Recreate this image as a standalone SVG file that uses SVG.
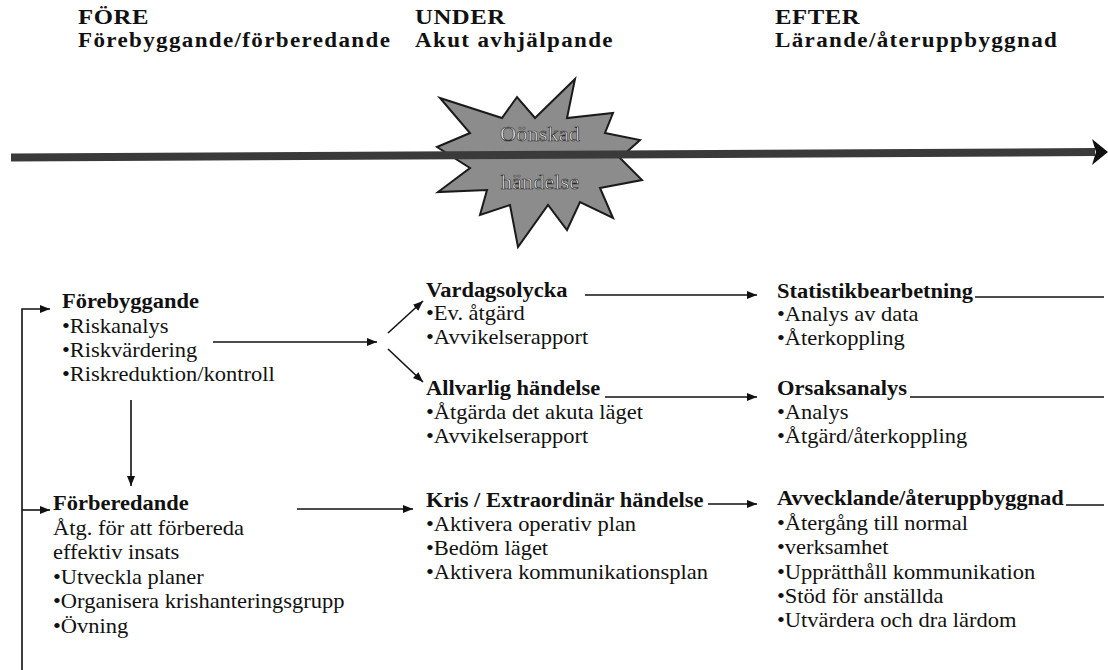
<svg xmlns="http://www.w3.org/2000/svg" width="1108" height="670" viewBox="0 0 1108 670" font-family="'Liberation Serif', 'DejaVu Serif', 'Times New Roman', serif">
<defs>
<style>
text{font-family:'Liberation Serif','DejaVu Serif','Times New Roman',serif;fill:#111}
.b{font-weight:bold;font-size:20px}
.t{font-size:20px}
.hd{font-weight:bold;font-size:22px;letter-spacing:0.5px}
.sub{font-weight:bold;font-size:20.5px;letter-spacing:1.2px}
.ln{stroke:#111;stroke-width:1.6;fill:none}
.arr{marker-end:url(#ah)}
.st{font-size:20px;fill:#eeeeee;stroke:#2a2a2a;stroke-width:0.6}
</style>
<marker id="ah" viewBox="0 0 10 8" refX="10" refY="4" markerWidth="10" markerHeight="8" markerUnits="userSpaceOnUse" orient="auto">
<path d="M0,0 L10,4 L0,8 z" fill="#111"/>
</marker>
</defs>
<rect width="1108" height="670" fill="#fff"/>

<g id="header-fore" transform="translate(78,0) scale(1.125,1)">
<text class="hd" x="0" y="24">FÖRE</text>
<text class="sub" x="0" y="47">Förebyggande/förberedande</text>
</g>
<g id="header-under" transform="translate(415,0) scale(1.125,1)">
<text class="hd" x="0" y="24">UNDER</text>
<text class="sub" x="0" y="47">Akut avhjälpande</text>
</g>
<g id="header-efter" transform="translate(775,0) scale(1.125,1)">
<text class="hd" x="0" y="24">EFTER</text>
<text class="sub" x="0" y="47">Lärande/återuppbyggnad</text>
</g>

<g id="event">
<polygon points="440,98 502,118 517,97 535,118 575,79 567,118 613,113 605,133 640,140 620,158 642,180 600,188 613,218 580,202 567,230 548,205 518,247 510,205 480,215 487,190 438,192 470,168 437,147 470,133" fill="#8c8c8c" stroke="#1a1a1a" stroke-width="2" stroke-linejoin="miter"/>
</g>

<g id="timeline">
<line x1="11" y1="157.5" x2="1095" y2="152" stroke="#3a3a3a" stroke-width="8"/>
<polygon points="1092,139 1108,152 1092,165 1096,152" fill="#111"/>
</g>

<g id="event-label" transform="translate(540,0) scale(1.125,1)">
<text class="st" x="0" y="141" text-anchor="middle">Oönskad</text>
<text class="st" x="0" y="189" text-anchor="middle">händelse</text>
</g>

<g id="forebyggande" transform="translate(62,0) scale(1.125,1)">
<text class="b" x="0" y="308">Förebyggande</text>
<text class="t" x="0" y="333">•Riskanalys</text>
<text class="t" x="0" y="357">•Riskvärdering</text>
<text class="t" x="0" y="381">•Riskreduktion/kontroll</text>
</g>

<g id="forberedande" transform="translate(53,0) scale(1.125,1)">
<text class="b" x="0" y="510">Förberedande</text>
<text class="t" x="0" y="535">Åtg. för att förbereda</text>
<text class="t" x="0" y="559">effektiv insats</text>
<text class="t" x="0" y="584">•Utveckla planer</text>
<text class="t" x="0" y="608">•Organisera krishanteringsgrupp</text>
<text class="t" x="0" y="633">•Övning</text>
</g>

<g id="vardagsolycka" transform="translate(426,0) scale(1.125,1)">
<text class="b" x="0" y="297">Vardagsolycka</text>
<text class="t" x="0" y="320">•Ev. åtgärd</text>
<text class="t" x="0" y="344">•Avvikelserapport</text>
</g>

<g id="allvarlig" transform="translate(426,0) scale(1.125,1)">
<text class="b" x="0" y="395">Allvarlig händelse</text>
<text class="t" x="0" y="419">•Åtgärda det akuta läget</text>
<text class="t" x="0" y="443">•Avvikelserapport</text>
</g>

<g id="kris" transform="translate(426,0) scale(1.125,1)">
<text class="b" x="0" y="507">Kris / Extraordinär händelse</text>
<text class="t" x="0" y="531">•Aktivera operativ plan</text>
<text class="t" x="0" y="555">•Bedöm läget</text>
<text class="t" x="0" y="579">•Aktivera kommunikationsplan</text>
</g>

<g id="statistik" transform="translate(777,0) scale(1.125,1)">
<text class="b" x="0" y="298">Statistikbearbetning</text>
<text class="t" x="0" y="321">•Analys av data</text>
<text class="t" x="0" y="345">•Återkoppling</text>
</g>

<g id="orsaksanalys" transform="translate(777,0) scale(1.125,1)">
<text class="b" x="0" y="395">Orsaksanalys</text>
<text class="t" x="0" y="419">•Analys</text>
<text class="t" x="0" y="443">•Åtgärd/återkoppling</text>
</g>

<g id="avvecklande" transform="translate(777,0) scale(1.125,1)">
<text class="b" x="0" y="505">Avvecklande/återuppbyggnad</text>
<text class="t" x="0" y="530">•Återgång till normal</text>
<text class="t" x="0" y="554">•verksamhet</text>
<text class="t" x="0" y="579">•Upprätthåll kommunikation</text>
<text class="t" x="0" y="603">•Stöd för anställda</text>
<text class="t" x="0" y="627">•Utvärdera och dra lärdom</text>
</g>

<g id="connectors">
<path class="ln arr" d="M22,670 V309 H50"/>
<path class="ln arr" d="M22,510 H50"/>
<path class="ln arr" d="M131,400 V486"/>
<path class="ln arr" d="M213,342 H377"/>
<path class="ln arr" d="M388,333 L423,301"/>
<path class="ln arr" d="M388,349 L423,382"/>
<path class="ln arr" d="M585,295 H757"/>
<path class="ln arr" d="M605,397 H757"/>
<path class="ln arr" d="M297,509 H413"/>
<path class="ln arr" d="M708,504 H757"/>
<path class="ln" d="M975,297 H1104"/>
<path class="ln" d="M910,397 H1104"/>
<path class="ln" d="M1066,505 H1104"/>
</g>
</svg>
